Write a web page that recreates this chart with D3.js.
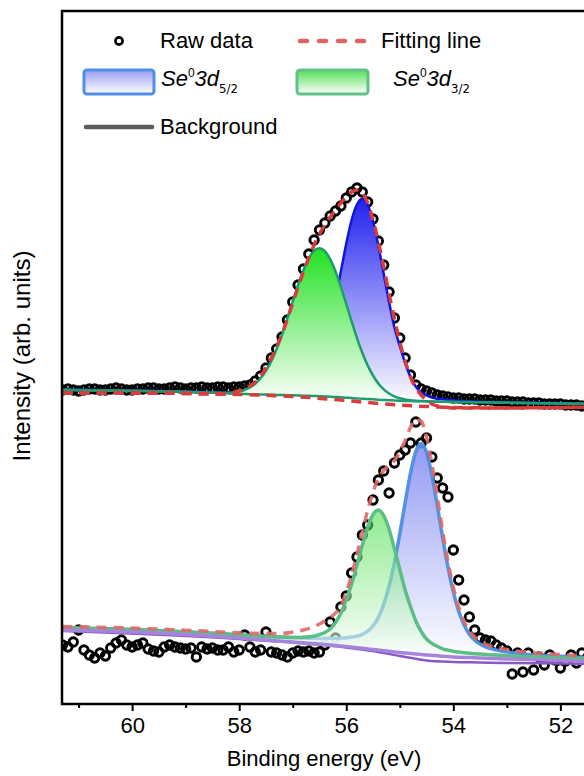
<!DOCTYPE html>
<html>
<head>
<meta charset="utf-8">
<script src="https://cdn.jsdelivr.net/npm/d3@7"></script>
<style>
  body { margin: 0; background: #fff; }
  svg { display: block; font-family: "Liberation Sans", Arial, sans-serif; }
</style>
</head>
<body>
<div id="chart"></div>
<script>
// Binding energy grid for the raw scans (61.3 -> 51.3 eV, 0.1 eV step)
const energies = d3.range(101).map(i => +(61.3 - i * 0.1).toFixed(1));

// Upper spectrum, raw counts (a.u.)
const topRaw = [
  314,315,314,313,314,315,315,314,314,315,
  316,315,314,314,315,315,316,316,315,315,
  316,317,316,315,316,316,317,316,316,317,
  317,316,317,317,
  318,319,323,328,336,346,355,367,384,402,
  419,435,450,464,474,481,488,493,498,506,
  512,516,512,502,485,463,439,412,386,366,
  346,329,319,315,313,311,309,308,307,306,
  306,305,305,305,304,304,304,303,303,303,
  302,302,302,301,301,301,300,300,300,300,
  299,299,299,298,298,298,298
];

// Lower spectrum, raw counts (a.u.)
const botRaw = [
  59,57,62,74,54,49,46,51,48,56,
  61,64,59,57,59,61,55,53,52,57,
  59,57,56,55,56,47,57,55,56,54,
  54,57,52,54,69,57,52,54,72,52,
  51,49,47,51,53,52,53,51,52,59,
  82,66,97,108,131,147,169,179,204,224,
  233,211,241,249,254,261,282,261,266,247,
  226,216,207,154,124,104,87,74,66,64,
  63,59,56,53,30,51,32,51,34,47,
  39,49,44,36,43,49,41,51,46,44,
  46
];

// Upper spectrum fitted components
const topCompE = [61.3,60.0,59.0,58.4,
  58.2,58.1,58.0,57.9,57.8,57.7,57.6,57.5,57.4,57.3,
  57.2,57.1,57.0,56.9,56.8,56.7,56.6,56.5,56.4,56.3,
  56.2,56.1,56.0,55.9,55.8,55.7,55.6,55.5,55.4,55.3,
  55.2,55.1,55.0,54.9,54.8,54.7,54.6,54.5,54.4,54.3,
  54.2,54.1,54.0,53.9,53.8,53.7,53.6,
  53.0,52.0,51.3];
const topBg = [314,313,312,311,
  310.5,310.3,310.1,310,309.8,309.7,309.5,309.4,309.3,309.1,
  309,308.8,308.7,308.5,308.3,308.2,308,307.8,307.5,307.3,
  307,306.7,306.3,306,305.5,305.3,305,304.7,304.3,304,
  303.8,303.5,303.3,303.1,303,302.8,302.7,302.6,302.4,302.3,
  302.2,302.1,302,301.9,301.8,301.8,301.7,
  301.2,300.5,300];
const topBlue = [314.5,313.5,312.5,311.5,
  311.2,311.1,311,310.9,310.8,310.7,310.7,310.9,311,311.1,
  311.5,311.8,312.7,314.5,317.3,322.7,331,342.8,358.5,380.3,
  405,432.7,460.3,484,499.5,505.3,499,482.7,458.3,430,
  401.8,376.5,358,341,327,317.3,311.7,308.6,306.4,305.3,
  304.7,304.1,303.7,303.3,303,302.8,302.6,
  301.8,300.9,300.4];
const topGreen = [314.2,313.2,312.2,311.2,
  311.2,311.7,312.4,314,316.5,320.3,325.7,333.2,342.9,355,
  369.4,385.5,402.4,419,433.8,445.8,453.3,455.8,452.8,444.9,
  432.5,417.2,400,382.7,365.9,351.2,338.6,328.5,320.5,314.6,
  310.5,307.6,305.7,304.5,303.7,303.2,302.9,302.7,302.5,302.4,
  302.3,302.2,302.1,302,301.9,301.9,301.8,
  301.3,300.6,300.1];
const topFit = [311,311,310.5,310,
  310.5,311.5,313.5,315.5,318,322,328,336,346,357,
  370,385,401,417,432,446,459,470,479,487,
  494,501,507,512,514,511,501,484,462,437,
  410,385,362,343,327,316,309,304,300,298,
  297,296.5,296,296,296,296,296,
  296,296.5,297];
const topFitBaseE = [61.3,60,59,58,57,56,55.5,55,54.5,54,53,52,51.3];
const topFitBase = [311,311,310.5,309.5,307.5,303.5,301,299,297.5,296.5,296,296.5,297];

// Lower spectrum fitted components
const botCompE = [61.3,60.0,59.0,58.0,57.6,57.2,57.0,56.8,56.6,
  56.5,56.4,56.3,56.2,56.1,56.0,55.9,55.8,55.7,55.6,
  55.5,55.4,55.3,55.2,55.1,55.0,54.9,54.8,54.7,54.6,
  54.5,54.4,54.3,54.2,54.1,54.0,53.9,53.8,53.7,53.6,
  53.5,53.4,
  53.2,53.0,52.6,52.0,51.3];
const botBg = [74,72,69.5,66,64.4,62.8,62,61.2,60.4,
  60,59.5,59,58.5,58,57.5,56.9,56.3,55.7,55.1,
  54.5,53.9,53.3,52.7,52.1,51.5,51,50.5,50,49.5,
  49,48.6,48.2,47.8,47.4,47,46.8,46.6,46.4,46.2,
  46,45.8,
  45.4,45,44.4,43.5,42.5];
const botGreen = [76.2,74.4,72.1,69,67.7,66.9,66.6,66.8,67.8,
  69.5,71.5,75,81.5,91,104.5,119.9,139.3,158.7,177.1,
  189.5,193.9,188.3,174.7,155.1,134.5,114,97.5,83,72.5,
  65,60.6,57.7,55.2,53.9,52.6,51.9,51.2,50.8,50.3,
  49.9,49.5,
  48.9,48.3,47.4,46.3,45.1];
const botBlue = [76.3,74.5,72.2,69.2,68,66.8,66.4,66,65.7,
  65.5,65.7,65.7,65.7,65.9,66.2,66.9,67.7,69.6,72.8,
  78,86.6,99.6,117.8,141.5,170.1,201.4,230.8,252.6,260.5,
  251.6,228.9,198.6,166.4,136.8,112.1,92.9,79.3,69.7,63.7,
  59.9,57.2,
  54.1,52.2,49.6,47.7,45.8];
const botFit = [77.5,75.9,73.8,71.2,70.6,70.6,72,74,77.5,
  80,83,86.5,91,98,112,128.9,149.7,171.6,193.8,
  212,225.6,233.6,238.8,243.5,252.1,263.4,276.8,284.6,282.5,
  266.6,239.9,207.1,172.8,142.2,116.7,97.2,82.9,73.2,67,
  62.8,59.9,
  56.6,54.5,51.7,49.5,47.4];
const botBg2E = [61.3,58,56,55.5,55,54.5,54,53.5,53,52,51.3];
const botBg2 = [73,65,56.5,53,48,43.5,42,41.5,41,40.5,40];

// Axis ticks
const majorTicks = [60, 58, 56, 54, 52];
const minorTicks = [61, 59, 57, 55, 53, 51];

// Chart setup
const width = 584, height = 776;
const plot = { left: 62, top: 11, right: 600, bottom: 704 };

const svg = d3.select('#chart').append('svg')
  .attr('width', width)
  .attr('height', height);

const defs = svg.append('defs');
function addGradient(id, top, bottom) {
  const g = defs.append('linearGradient').attr('id', id)
    .attr('x1', 0).attr('y1', 0).attr('x2', 0).attr('y2', 1);
  g.append('stop').attr('offset', '0%').attr('stop-color', top);
  g.append('stop').attr('offset', '100%').attr('stop-color', bottom);
}
addGradient('gTopBlue', '#2222ee', '#ffffff');
addGradient('gTopGreen', '#22e022', '#ffffff');
addGradient('gBotBlue', '#8088f0', '#ffffff');
addGradient('gBotGreen', '#44dd44', '#ffffff');
addGradient('gLegBlue', '#9a9cf0', '#ffffff');
addGradient('gLegGreen', '#55e055', '#ffffff');

defs.append('clipPath').attr('id', 'plotClip')
  .append('rect')
  .attr('x', plot.left).attr('y', plot.top)
  .attr('width', plot.right - plot.left)
  .attr('height', plot.bottom - plot.top);

const x = d3.scaleLinear().domain([61.31, 51.26]).range([plot.left, plot.right]);
const y = d3.scaleLinear().domain([0, 692]).range([704, 12]);

const line = d3.line()
  .x(d => x(d.e)).y(d => y(d.v))
  .curve(d3.curveMonotoneX);
const area = d3.area()
  .x(d => x(d.e)).y0(d => y(d.b)).y1(d => y(d.v))
  .curve(d3.curveMonotoneX);

const zip = (es, vs, bs) => es.map((e, i) => ({ e, v: vs[i], b: bs ? bs[i] : 0 }));

const layer = svg.append('g').attr('clip-path', 'url(#plotClip)');

// Raw data circles
function drawRaw(values) {
  layer.append('g').selectAll('circle')
    .data(zip(energies, values))
    .enter().append('circle')
    .attr('cx', d => x(d.e))
    .attr('cy', d => y(d.v))
    .attr('r', 4.2)
    .attr('fill', 'none')
    .attr('stroke', '#000')
    .attr('stroke-width', 2.9);
}

// Lower spectrum
drawRaw(botRaw);
layer.append('path').datum(zip(botCompE, botBlue, botBg))
  .attr('d', area).attr('fill', 'url(#gBotBlue)').attr('opacity', 0.85);
layer.append('path').datum(zip(botCompE, botBlue))
  .attr('d', line).attr('fill', 'none')
  .attr('stroke', '#4a8ee4').attr('stroke-width', 3.5).attr('opacity', 0.95);
layer.append('path').datum(zip(botCompE, botGreen, botBg))
  .attr('d', area).attr('fill', 'url(#gBotGreen)').attr('opacity', 0.6);
layer.append('path').datum(zip(botCompE, botGreen))
  .attr('d', line).attr('fill', 'none')
  .attr('stroke', '#5cbd86').attr('stroke-width', 3.5);
layer.append('path').datum(zip(botBg2E, botBg2))
  .attr('d', line).attr('fill', 'none')
  .attr('stroke', '#8a58c4').attr('stroke-width', 2.5);
layer.append('path').datum(zip(botCompE, botBg))
  .attr('d', line).attr('fill', 'none')
  .attr('stroke', '#a784dc').attr('stroke-width', 3.5);
layer.append('path').datum(zip(botCompE, botFit))
  .attr('d', line).attr('fill', 'none')
  .attr('stroke', '#e06868').attr('stroke-width', 3.5)
  .attr('stroke-dasharray', '10,7').attr('opacity', 0.9);

// Upper spectrum
drawRaw(topRaw);
layer.append('path').datum(zip(topCompE, topBlue, topBg))
  .attr('d', area).attr('fill', 'url(#gTopBlue)');
layer.append('path').datum(zip(topCompE, topBlue))
  .attr('d', line).attr('fill', 'none')
  .attr('stroke', '#1414e0').attr('stroke-width', 2.5);
layer.append('path').datum(zip(topCompE, topGreen, topBg))
  .attr('d', area).attr('fill', 'url(#gTopGreen)');
layer.append('path').datum(zip(topCompE, topGreen))
  .attr('d', line).attr('fill', 'none')
  .attr('stroke', '#1e9c70').attr('stroke-width', 2.5);
layer.append('path').datum(zip(topCompE, topBg))
  .attr('d', line).attr('fill', 'none')
  .attr('stroke', '#1e9c70').attr('stroke-width', 2.5);
layer.append('path').datum(zip(topFitBaseE, topFitBase))
  .attr('d', line).attr('fill', 'none')
  .attr('stroke', '#d83c3c').attr('stroke-width', 3.5)
  .attr('stroke-dasharray', '10,7');
layer.append('path').datum(zip(topCompE, topFit))
  .attr('d', line).attr('fill', 'none')
  .attr('stroke', '#d83c3c').attr('stroke-width', 3.5)
  .attr('stroke-dasharray', '10,7');

// Frame
svg.append('rect')
  .attr('x', plot.left).attr('y', plot.top)
  .attr('width', plot.right - plot.left)
  .attr('height', plot.bottom - plot.top)
  .attr('fill', 'none').attr('stroke', '#000').attr('stroke-width', 2.5);

// Bottom axis
const xAxis = svg.append('g')
  .attr('transform', `translate(0,${plot.bottom})`)
  .call(d3.axisBottom(x).tickValues(majorTicks).tickSize(7).tickPadding(6).tickFormat(d3.format('d')));
xAxis.select('.domain').remove();
xAxis.selectAll('.tick line').attr('stroke-width', 2);
xAxis.selectAll('.tick text')
  .style('font-size', '22px')
  .style('font-family', '"Liberation Sans", Arial, sans-serif')
  .attr('fill', '#000');

const xMinor = svg.append('g')
  .attr('transform', `translate(0,${plot.bottom})`)
  .call(d3.axisBottom(x).tickValues(minorTicks).tickSize(4).tickFormat(''));
xMinor.select('.domain').remove();
xMinor.selectAll('.tick line').attr('stroke-width', 2);

svg.append('text')
  .attr('x', 324).attr('y', 766)
  .attr('text-anchor', 'middle')
  .style('font-size', '22px')
  .text('Binding energy (eV)');

svg.append('text')
  .attr('transform', 'translate(30,356) rotate(-90)')
  .attr('text-anchor', 'middle')
  .style('font-size', '24px')
  .text('Intensity (arb. units)');

// Legend
const legend = svg.append('g');
legend.append('circle')
  .attr('cx', 119).attr('cy', 41).attr('r', 3.6)
  .attr('fill', '#fff').attr('stroke', '#000').attr('stroke-width', 2.6);
legend.append('text').attr('x', 160).attr('y', 48)
  .style('font-size', '22px').text('Raw data');

legend.append('line')
  .attr('x1', 300).attr('x2', 366).attr('y1', 41).attr('y2', 41)
  .attr('stroke', '#e06464').attr('stroke-width', 4.5)
  .attr('stroke-linecap', 'round').attr('stroke-dasharray', '7,12');
legend.append('text').attr('x', 381).attr('y', 48)
  .style('font-size', '22px').text('Fitting line');

function seLabel(x0, y0, sub) {
  const t = legend.append('text').attr('x', x0).attr('y', y0).style('font-size', '22px');
  t.append('tspan').style('font-style', 'italic').text('Se');
  t.append('tspan').attr('dy', -9).style('font-size', '12px').text('0');
  t.append('tspan').attr('dy', 9).style('font-style', 'italic').text('3d');
  t.append('tspan').attr('dy', 7).style('font-size', '13px')
    .style('font-family', '"Liberation Sans Narrow", "DejaVu Sans Condensed", sans-serif')
    .text(sub);
}

legend.append('rect')
  .attr('x', 84).attr('y', 70).attr('width', 70).attr('height', 24).attr('rx', 3)
  .attr('fill', 'url(#gLegBlue)').attr('stroke', '#4f8fe8').attr('stroke-width', 3);
seLabel(161, 86, '5/2');

legend.append('rect')
  .attr('x', 297).attr('y', 70).attr('width', 71).attr('height', 24).attr('rx', 3)
  .attr('fill', 'url(#gLegGreen)').attr('stroke', '#62c08a').attr('stroke-width', 3);
seLabel(393, 86, '3/2');

legend.append('line')
  .attr('x1', 86).attr('x2', 152).attr('y1', 127).attr('y2', 127)
  .attr('stroke', '#5a5a5a').attr('stroke-width', 4.5).attr('stroke-linecap', 'round');
legend.append('text').attr('x', 160).attr('y', 134)
  .style('font-size', '22px').text('Background');
</script>
</body>
</html>
